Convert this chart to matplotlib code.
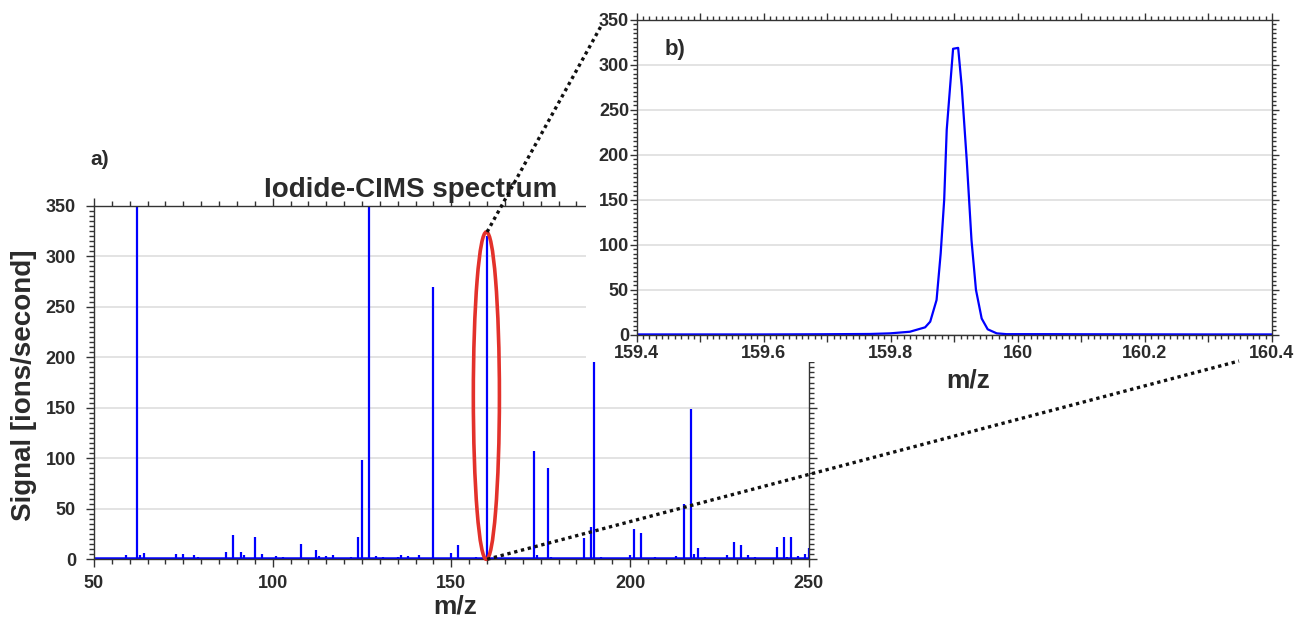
import matplotlib
matplotlib.use("Agg")
import matplotlib.pyplot as plt
from matplotlib.patches import Ellipse, Rectangle
from matplotlib.lines import Line2D
from matplotlib.ticker import MultipleLocator, FuncFormatter

plt.rcParams['font.family'] = ['Liberation Sans', 'DejaVu Sans']
plt.rcParams['font.weight'] = 'bold'

# ---- data: full spectrum (stick peaks, m/z and ions/s) ----
peak_mz = [59, 62, 63, 64, 73, 75, 78, 79, 87, 89, 91, 92, 95, 97, 101, 103,
           108, 112, 113, 115, 117, 122, 124, 125, 127, 129, 131, 135, 136, 138,
           141, 145, 150, 152, 157, 160, 173, 174, 177, 178, 187, 189, 190, 192,
           200, 201, 203, 207, 213, 215, 217, 218, 219, 221, 227, 229, 231, 233,
           235, 241, 243, 244, 245, 247, 249, 250]
peak_signal = [4.3, 1500, 4, 6, 5, 5, 4, 2.5, 7.5, 24, 7, 4, 22, 5, 3, 2,
               15, 9, 3, 3.5, 4, 2.5, 22, 98, 1200, 3, 2, 2.5, 4.5, 3,
               4, 270, 6, 14, 2.5, 320, 107, 4, 90, 2, 21.5, 32, 195, 2.5,
               4, 30, 26.5, 2.5, 3, 55, 149, 5, 11, 2.5, 4, 17, 14, 4,
               2, 12, 22, 2.5, 22, 3.5, 5, 11]
baseline_level = 0.8

# ---- data: zoom on the m/z 160 peak ----
zoom_mz = [159.40, 159.50, 159.60, 159.689, 159.767, 159.799, 159.830,
           159.854, 159.862, 159.872, 159.8785, 159.884, 159.888, 159.898,
           159.906, 159.9116, 159.9195, 159.927, 159.934, 159.943, 159.9525,
           159.9667, 159.982, 160.05, 160.10, 160.20, 160.30, 160.40]
zoom_signal = [0.3, 0.3, 0.3, 0.5, 0.8, 1.5, 3.3,
               8.2, 14.5, 38.6, 90.5, 150, 228, 318,
               319, 276, 194, 105, 50, 18, 6,
               1.5, 0.6, 0.6, 0.5, 0.4, 0.3, 0.3]

BLUE = '#0000ff'
TXT = '#2b2b2b'
W, H = 1302, 617

fig = plt.figure(figsize=(W / 100, H / 100), dpi=100)


def box(x0, y0, x1, y1):
    # pixel box (top-left origin) -> figure fraction rect
    return [x0 / W, 1 - y1 / H, (x1 - x0) / W, (y1 - y0) / H]


def style_axes(a, labelsize, major_len, minor_len, pad_x, pad_y):
    for s in a.spines.values():
        s.set_color('#333333')
        s.set_linewidth(1.0)
    a.tick_params(which='both', direction='out', top=True, right=True,
                  colors='#333333', labelcolor=TXT, labelsize=labelsize, width=1)
    a.tick_params(which='major', length=major_len)
    a.tick_params(which='minor', length=minor_len)
    a.tick_params(axis='x', pad=pad_x)
    a.tick_params(axis='y', pad=pad_y)
    a.yaxis.grid(True, color='#dedede', lw=1.2)
    a.set_axisbelow(True)


# ---- main spectrum a) ----
ax = fig.add_axes(box(94, 205.7, 808.7, 559.3))
ax.vlines(peak_mz, 0, peak_signal, color=BLUE, lw=1.6)
ax.axhline(baseline_level, color=BLUE, lw=1.8)
ax.set_xlim(50, 250)
ax.set_ylim(0, 350)
ax.xaxis.set_major_locator(MultipleLocator(50))
ax.xaxis.set_minor_locator(MultipleLocator(5))
ax.yaxis.set_major_locator(MultipleLocator(50))
ax.yaxis.set_minor_locator(MultipleLocator(5))
style_axes(ax, 13, 6, 3.5, 5.5, 7)
ax.set_zorder(0)

ell = Ellipse((159.8, 162), 7.3, 324, fill=False, edgecolor='#e3312b', lw=2.6,
              clip_on=False, zorder=4)
ax.add_patch(ell)

# white graph window behind the inset
fig.add_artist(Rectangle((585.7 / W, 1 - 361.7 / H), (W - 585.7) / W, 361.7 / H,
                         transform=fig.transFigure, facecolor='white',
                         edgecolor='none', zorder=1))

# ---- inset b) ----
axb = fig.add_axes(box(636.7, 20, 1272, 334.7))
axb.plot(zoom_mz, zoom_signal, color=BLUE, lw=1.6)
axb.set_xlim(159.4, 160.4)
axb.set_ylim(0, 350)
axb.xaxis.set_major_locator(MultipleLocator(0.1))
axb.xaxis.set_minor_locator(MultipleLocator(0.01))
axb.yaxis.set_major_locator(MultipleLocator(50))
axb.yaxis.set_minor_locator(MultipleLocator(5))
axb.xaxis.set_major_formatter(
    FuncFormatter(lambda v, p: f"{v:g}" if round(v * 10) % 2 == 0 else ""))
style_axes(axb, 13, 5, 3, 2.5, 0.5)
axb.set_zorder(2)

# ---- texts ----
fig.text(411 / W, 1 - 197.3 / H, "Iodide-CIMS spectrum", ha='center',
         va='baseline', fontsize=20, color=TXT)
fig.text(90 / W, 1 - 165 / H, "a)", ha='left', va='baseline', fontsize=15, color=TXT)
fig.text(665 / W, 1 - 55 / H, "b)", ha='left', va='baseline', fontsize=16,
         color=TXT, zorder=6)
fig.text(455 / W, 1 - 613 / H, "m/z", ha='center', va='baseline', fontsize=19, color=TXT)
fig.text(968 / W, 1 - 388 / H, "m/z", ha='center', va='baseline', fontsize=19,
         color=TXT, zorder=6)
fig.text(24 / W, 1 - 385 / H, "Signal [ions/second]", rotation=90, ha='center',
         va='center', fontsize=20, color=TXT)

# ---- dotted zoom lines ----
top_start = ax.transData.transform((160, 324))
bot_start = ax.transData.transform((160, 0))
for start, end in [(top_start, (600.7, H - 26.7)), (bot_start, (1239, H - 361))]:
    fig.add_artist(Line2D([start[0] / W, end[0] / W], [start[1] / H, end[1] / H],
                          transform=fig.transFigure, color='#111111', lw=2.4,
                          ls=(0, (1, 1.1)), zorder=5))

fig.savefig("out.png", dpi=100)
